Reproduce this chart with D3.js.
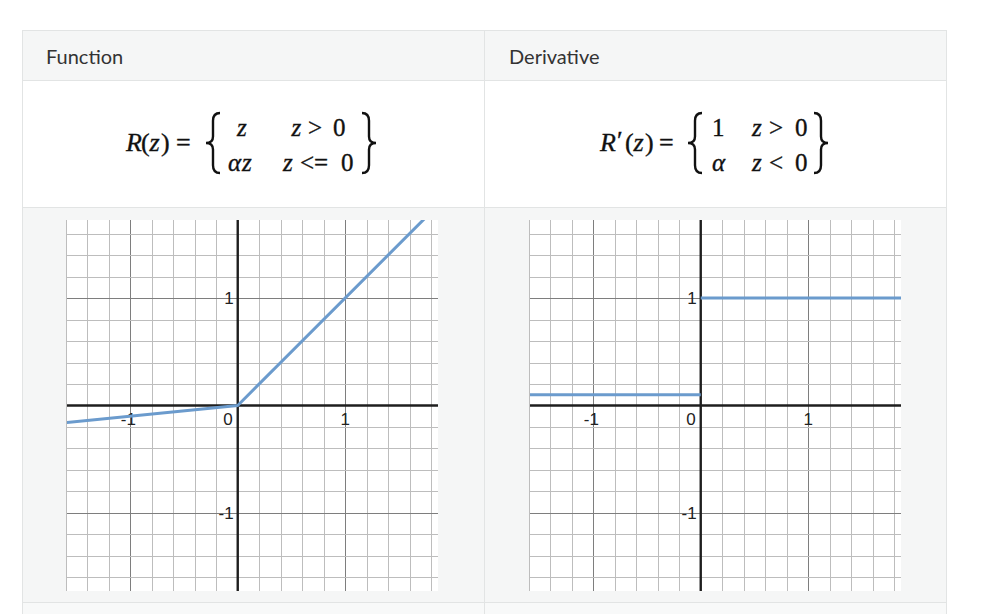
<!DOCTYPE html>
<html>
<head>
<meta charset="utf-8">
<script src="https://cdn.jsdelivr.net/npm/d3@7"></script>
<style>
  html, body { margin: 0; padding: 0; background: #ffffff; }
  svg { display: block; }
</style>
</head>
<body>
<svg id="chart" width="1000" height="614"></svg>
<script>
// ---------- data ----------
const headers = ["Function", "Derivative"];
const xTickLabels = [-1, 0, 1];
const yTickLabels = [1, -1];
// Leaky ReLU sample points (z, R(z)), alpha = 0.1
const reluZ = [-1.6, 0, 1.8];
const reluR = [-0.16, 0, 1.8];
// Derivative segments
const derivLowZ = [-1.6, 0];
const derivLowY = [0.1, 0.1];
const derivHighZ = [0, 1.9];
const derivHighY = [1, 1];

// ---------- layout ----------
const svg = d3.select("#chart");
const T = { x0: 22, x1: 947, colX: 484.5, hTop: 30.5, hBot: 80.5, fBot: 207.5, cBot: 602.5 };
const cellBg = "#f5f6f6", borderCol = "#e2e4e4";

svg.append("rect").attr("x", T.x0).attr("y", T.hTop).attr("width", T.x1 - T.x0).attr("height", T.hBot - T.hTop).attr("fill", cellBg);
svg.append("rect").attr("x", T.x0).attr("y", T.hBot).attr("width", T.x1 - T.x0).attr("height", T.fBot - T.hBot).attr("fill", "#ffffff");
svg.append("rect").attr("x", T.x0).attr("y", T.fBot).attr("width", T.x1 - T.x0).attr("height", T.cBot - T.fBot).attr("fill", cellBg);
svg.append("rect").attr("x", T.x0).attr("y", T.cBot).attr("width", T.x1 - T.x0).attr("height", 614 - T.cBot).attr("fill", "#f8f9f9");

const bl = svg.append("g").attr("stroke", borderCol).attr("stroke-width", 1).attr("fill", "none");
[T.hTop, T.hBot, T.fBot, T.cBot].forEach(y => bl.append("line").attr("x1", T.x0).attr("x2", T.x1).attr("y1", y).attr("y2", y));
[T.x0 + 0.5, T.colX, T.x1 - 0.5].forEach(x => bl.append("line").attr("x1", x).attr("x2", x).attr("y1", T.hTop).attr("y2", 614));

svg.selectAll("text.hdr").data(headers).join("text")
  .attr("class", "hdr")
  .attr("x", (d, i) => i === 0 ? 46 : 509)
  .attr("y", 64)
  .attr("font-family", "Lato, 'Open Sans', sans-serif")
  .attr("font-size", 20)
  .attr("fill", "#333")
  .text(d => d);

// ---------- formulas ----------
const mathFont = "'Liberation Serif', 'DejaVu Serif', serif";
// each token: [text, italic, x, y]
function tok(list, size) {
  list.forEach(p => {
    svg.append("text").attr("x", p[2]).attr("y", p[3])
      .attr("font-family", mathFont).attr("font-size", size || 25).attr("fill", "#111")
      .attr("stroke", "#111").attr("stroke-width", 0.35)
      .attr("font-style", p[1] ? "italic" : "normal")
      .text(p[0]);
  });
}
function brace(x, top, bot, w, left) {
  const h = bot - top, mid = (top + bot) / 2;
  const xo = left ? x + w : x, xm = x + w / 2, xp = left ? x : x + w;
  const p = d3.path();
  p.moveTo(xo, top);
  p.quadraticCurveTo(xm, top, xm, top + h * 0.13);
  p.lineTo(xm, mid - h * 0.11);
  p.quadraticCurveTo(xm, mid, xp, mid);
  p.quadraticCurveTo(xm, mid, xm, mid + h * 0.11);
  p.lineTo(xm, bot - h * 0.13);
  p.quadraticCurveTo(xm, bot, xo, bot);
  svg.append("path").attr("d", p.toString()).attr("fill", "none").attr("stroke", "#111").attr("stroke-width", 2.4);
}
const rT = 136, rB = 170.5, rM = 151;
// left formula
tok([["R", true, 126, rM], ["(", false, 141, rM], ["z", true, 149.5, rM], [")", false, 161, rM], ["=", false, 176, rM]], 26);
brace(206, 113, 173, 14, true);
tok([["z", true, 237, rT], ["z", true, 291.5, rT], [">", false, 308, rT], ["0", false, 333, rT]]);
tok([["α", true, 228, rB], ["z", true, 242, rB], ["z", true, 283, rB], ["<=", false, 300, rB], ["0", false, 341, rB]]);
brace(362, 113, 173, 14, false);
// right formula
tok([["R", true, 600, rM], ["′", false, 617, rM - 2], ["(", false, 625, rM], ["z", true, 633.5, rM], [")", false, 645, rM], ["=", false, 659, rM]], 26);
brace(688, 113, 173, 14, true);
tok([["1", false, 712, rT], ["α", true, 712, rB]]);
tok([["z", true, 752, rT], [">", false, 769, rT], ["0", false, 795, rT]]);
tok([["z", true, 752, rB], ["<", false, 769, rB], ["0", false, 795, rB]]);
brace(814, 113, 173, 14, false);

// ---------- plots ----------
const size = 371;
const x = d3.scaleLinear().domain([-1.59, 1.865]).range([0, size]);
const y = d3.scaleLinear().domain([-1.727, 1.727]).range([size, 0]);
const gridX = d3.range(-16, 19, 2).map(v => v / 10);
const gridY = d3.range(-16, 18, 2).map(v => v / 10);

function plot(ox, oy, id, series) {
  const g = svg.append("g").attr("transform", `translate(${ox},${oy})`);
  g.append("rect").attr("width", size).attr("height", size).attr("fill", "#ffffff");
  g.append("clipPath").attr("id", id).append("rect").attr("width", size).attr("height", size);
  const isMajor = v => Math.abs(v - Math.round(v)) < 1e-6;
  g.append("g").selectAll("line").data(gridX.filter(v => Math.abs(v) > 1e-6)).join("line")
    .attr("x1", d => Math.round(x(d)) + 0.5).attr("x2", d => Math.round(x(d)) + 0.5)
    .attr("y1", 0).attr("y2", size)
    .attr("stroke", d => isMajor(d) ? "#7e7e7e" : "#bdbdbd").attr("stroke-width", 1);
  g.append("g").selectAll("line").data(gridY.filter(v => Math.abs(v) > 1e-6)).join("line")
    .attr("y1", d => Math.round(y(d)) + 0.5).attr("y2", d => Math.round(y(d)) + 0.5)
    .attr("x1", 0).attr("x2", size)
    .attr("stroke", d => isMajor(d) ? "#7e7e7e" : "#bdbdbd").attr("stroke-width", 1);
  g.append("line").attr("x1", 0).attr("x2", size).attr("y1", y(0)).attr("y2", y(0)).attr("stroke", "#1e1e1e").attr("stroke-width", 2.4);
  g.append("line").attr("x1", x(0)).attr("x2", x(0)).attr("y1", 0).attr("y2", size).attr("stroke", "#1e1e1e").attr("stroke-width", 2.4);
  const lf = "'Liberation Sans', Arial, sans-serif";
  g.append("g").selectAll("text").data(xTickLabels).join("text")
    .attr("x", d => d === 0 ? x(0) - 5 : x(d) - (d < 0 ? 2 : 0))
    .attr("y", y(0) + 19)
    .attr("text-anchor", d => d === 0 ? "end" : "middle")
    .attr("font-family", lf).attr("font-size", 17).attr("fill", "#222")
    .text(d => d);
  g.append("g").selectAll("text").data(yTickLabels).join("text")
    .attr("x", x(0) - 4)
    .attr("y", d => y(d) + 6)
    .attr("text-anchor", "end")
    .attr("font-family", lf).attr("font-size", 17).attr("fill", "#222")
    .text(d => d);
  const line = d3.line().x(d => x(d[0])).y(d => y(d[1]));
  const cg = g.append("g").attr("clip-path", `url(#${id})`);
  series.forEach(s => {
    cg.append("path").attr("d", line(s)).attr("fill", "none")
      .attr("stroke", "#6b9bcd").attr("stroke-width", 3).attr("stroke-linejoin", "round");
  });
}

plot(67, 220, "clipA", [d3.zip(reluZ, reluR)]);
plot(530, 220, "clipB", [d3.zip(derivLowZ, derivLowY), d3.zip(derivHighZ, derivHighY)]);
</script>
</body>
</html>
